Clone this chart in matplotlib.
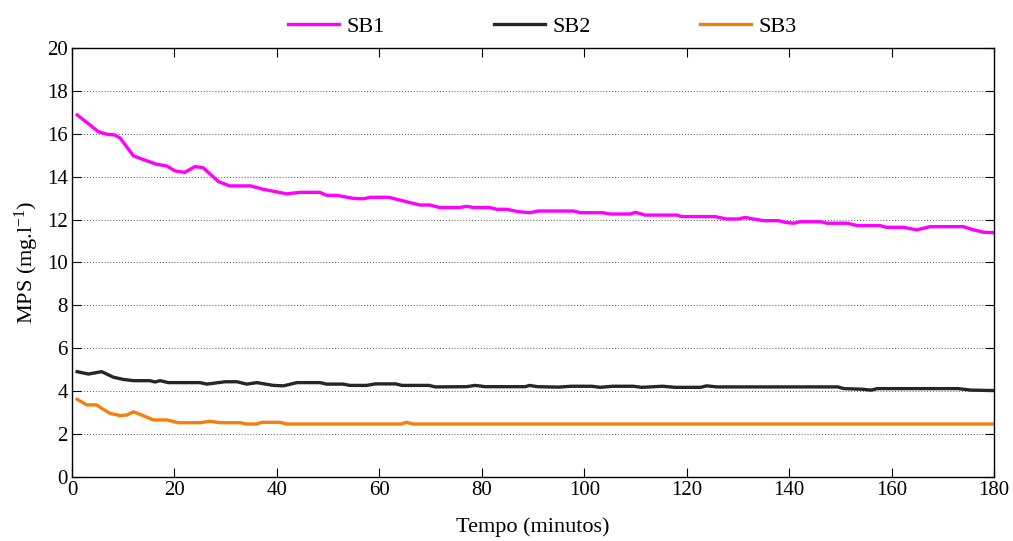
import matplotlib
matplotlib.use("Agg")
import matplotlib.pyplot as plt

# Data (time in minutes, MPS in mg/l)
t_sb1 = [1, 3.8, 5.1, 6.8, 8.4, 9.4, 12, 13.9, 16.5, 18.5, 20.1, 22, 24, 25.6, 28.6, 30.8,
         34.8, 37.4, 41.9, 44.5, 48.4, 49.7, 51.7, 54.9, 56.9, 58.2, 61.8, 64, 67.9, 69.9,
         71.8, 75.7, 77, 78.4, 81.6, 82.9, 84.9, 87.1, 89.4, 91, 97.9, 99.2, 103.7, 105,
         109, 110, 111.9, 118.1, 119, 125.5, 127.8, 130.1, 131.4, 133, 135, 137.9, 139.3,
         140.9, 142.2, 146.1, 147.4, 151.3, 153.3, 157.7, 159, 162.3, 164.9, 167.5, 174,
         176, 178, 180]
v_sb1 = [16.88, 16.36, 16.1, 15.98, 15.94, 15.8, 14.97, 14.8, 14.58, 14.5, 14.27, 14.2,
         14.47, 14.42, 13.77, 13.57, 13.57, 13.41, 13.2, 13.27, 13.27, 13.13, 13.13, 12.99,
         12.97, 13.04, 13.04, 12.91, 12.68, 12.68, 12.56, 12.56, 12.62, 12.56, 12.56, 12.48,
         12.48, 12.37, 12.32, 12.4, 12.4, 12.32, 12.32, 12.26, 12.26, 12.34, 12.21, 12.21,
         12.14, 12.14, 12.03, 12.03, 12.1, 12.03, 11.95, 11.95, 11.87, 11.83, 11.9, 11.9,
         11.83, 11.83, 11.72, 11.72, 11.64, 11.64, 11.52, 11.67, 11.67, 11.52, 11.41, 11.39]

t_sb2 = [1, 3.2, 5.8, 8.1, 10, 12, 15.2, 16.2, 17.2, 18.8, 25, 26.3, 29.9, 32.2, 34.1,
         36.1, 39.3, 41.3, 43.9, 48.4, 49.7, 52.9, 54.3, 57.5, 59.2, 63.2, 64.4, 69.7, 70.9,
         77, 78.7, 80.7, 88.5, 89.3, 90.9, 95, 97.4, 101.5, 103.1, 105.5, 109.6, 111.2,
         115.3, 117.8, 122.7, 123.9, 125.9, 149.5, 150.7, 154.3, 156, 157.2, 173, 175.5, 180]
v_sb2 = [4.91, 4.8, 4.91, 4.65, 4.55, 4.49, 4.49, 4.43, 4.49, 4.4, 4.4, 4.33, 4.44, 4.44,
         4.33, 4.4, 4.27, 4.25, 4.4, 4.4, 4.33, 4.33, 4.27, 4.27, 4.34, 4.34, 4.27, 4.27,
         4.2, 4.21, 4.27, 4.21, 4.21, 4.27, 4.21, 4.19, 4.23, 4.23, 4.18, 4.23, 4.23, 4.18,
         4.23, 4.18, 4.18, 4.25, 4.2, 4.2, 4.12, 4.09, 4.05, 4.12, 4.12, 4.05, 4.03]

t_sb3 = [1, 2.9, 4.8, 5.8, 7.4, 9.4, 10.7, 12, 13.6, 15.9, 18.5, 20.8, 25, 26.9, 28.9,
         32.8, 34.1, 36.1, 37, 40.6, 41.9, 64.2, 65.3, 66.6, 180]
v_sb3 = [3.62, 3.36, 3.36, 3.2, 2.97, 2.86, 2.89, 3.04, 2.89, 2.66, 2.66, 2.53, 2.53, 2.6,
         2.53, 2.53, 2.47, 2.47, 2.55, 2.55, 2.47, 2.47, 2.55, 2.47, 2.47]

x_ticks = list(range(0, 181, 20))
y_ticks = list(range(0, 21, 2))

plt.rcParams['font.family'] = ['Liberation Serif', 'DejaVu Serif']
plt.rcParams['mathtext.fontset'] = 'custom'
plt.rcParams['mathtext.rm'] = 'Liberation Serif'
plt.rcParams['mathtext.it'] = 'Liberation Serif:italic'

fig = plt.figure(figsize=(10.13, 5.41), dpi=100)
ax = fig.add_axes([0.0711, 0.1183, 0.9102, 0.793])

ax.plot(t_sb1, v_sb1, color='#FF00FF', lw=2.4, label='SB1', solid_joinstyle='round')
ax.plot(t_sb2, v_sb2, color='#262626', lw=2.4, label='SB2', solid_joinstyle='round')
ax.plot(t_sb3, v_sb3, color='#F57F0A', lw=2.4, label='SB3', solid_joinstyle='round')

ax.set_xlim(0, 180)
ax.set_ylim(0, 20)
ax.set_xticks(x_ticks)
ax.set_yticks(y_ticks)
ax.tick_params(direction='in', top=True, right=True, labelsize=15, length=6.5, width=0.8,
               pad=3)
ax.yaxis.grid(True, linestyle=(0, (1, 2)), color='#555555', linewidth=0.7)
ax.set_axisbelow(True)
for s in ax.spines.values():
    s.set_linewidth(1.0)

ax.set_xlabel('Tempo (minutos)', fontsize=16, labelpad=12)
ax.set_ylabel(r'MPS (mg.l$^{\mathregular{-1}}$)', fontsize=16, labelpad=4)

ax.legend(loc='lower center', bbox_to_anchor=(0.51, 1.0), ncol=3, frameon=False,
          fontsize=16, handlelength=2.3, handletextpad=0.35, columnspacing=4.9,
          borderaxespad=0.1)

fig.savefig('out.png', dpi=100)
